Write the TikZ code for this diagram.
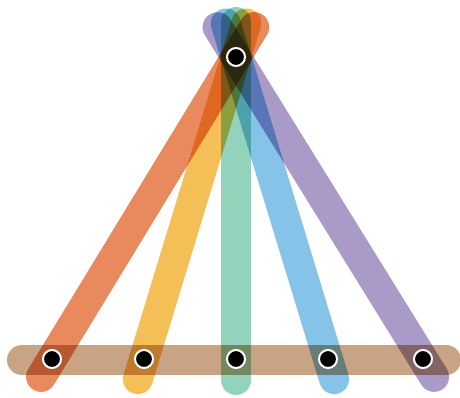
\documentclass[tikz,border=0pt]{standalone}
\usetikzlibrary{calc}
\definecolor{cOrange}{HTML}{E98A5E}
\definecolor{cYellow}{HTML}{F5BF57}
\definecolor{cGreen}{HTML}{93D3BC}
\definecolor{cBlue}{HTML}{86C3E8}
\definecolor{cPurple}{HTML}{A99AC8}
\definecolor{cBrown}{HTML}{C8A484}
\tikzset{
  band/.style={line width=30pt, line cap=round},
  dot/.style={circle, fill=black, draw=white, line width=2pt, minimum size=18pt, inner sep=0pt},
}
\begin{document}
\begin{tikzpicture}[x=1pt,y=-1pt]
\useasboundingbox (0,0) rectangle (460,398);
\clip (0,0) rectangle (460,398);
\coordinate (apex) at (236,57);
\coordinate (b1) at (52,359);
\coordinate (b2) at (144,359);
\coordinate (b3) at (236,359);
\coordinate (b4) at (328,359);
\coordinate (b5) at (423,359);
\coordinate (barL) at (22,360);
\coordinate (barR) at (446,360);
\begin{scope}[blend mode=multiply]
  \draw[band, cBrown] (barL) -- (barR);
  \draw[band, cOrange] ($(b1)!-21pt!(apex)$) -- ($(apex)!-35pt!(b1)$);
  \draw[band, cYellow] ($(b2)!-21pt!(apex)$) -- ($(apex)!-35pt!(b2)$);
  \draw[band, cGreen] ($(b3)!-21pt!(apex)$) -- ($(apex)!-35pt!(b3)$);
  \draw[band, cBlue] ($(b4)!-21pt!(apex)$) -- ($(apex)!-35pt!(b4)$);
  \draw[band, cPurple] ($(b5)!-21pt!(apex)$) -- ($(apex)!-35pt!(b5)$);
\end{scope}
\node[dot] (napex) at (apex) {};
\node[dot] (n1) at (b1) {};
\node[dot] (n2) at (b2) {};
\node[dot] (n3) at (b3) {};
\node[dot] (n4) at (b4) {};
\node[dot] (n5) at (b5) {};
\end{tikzpicture}
\end{document}
